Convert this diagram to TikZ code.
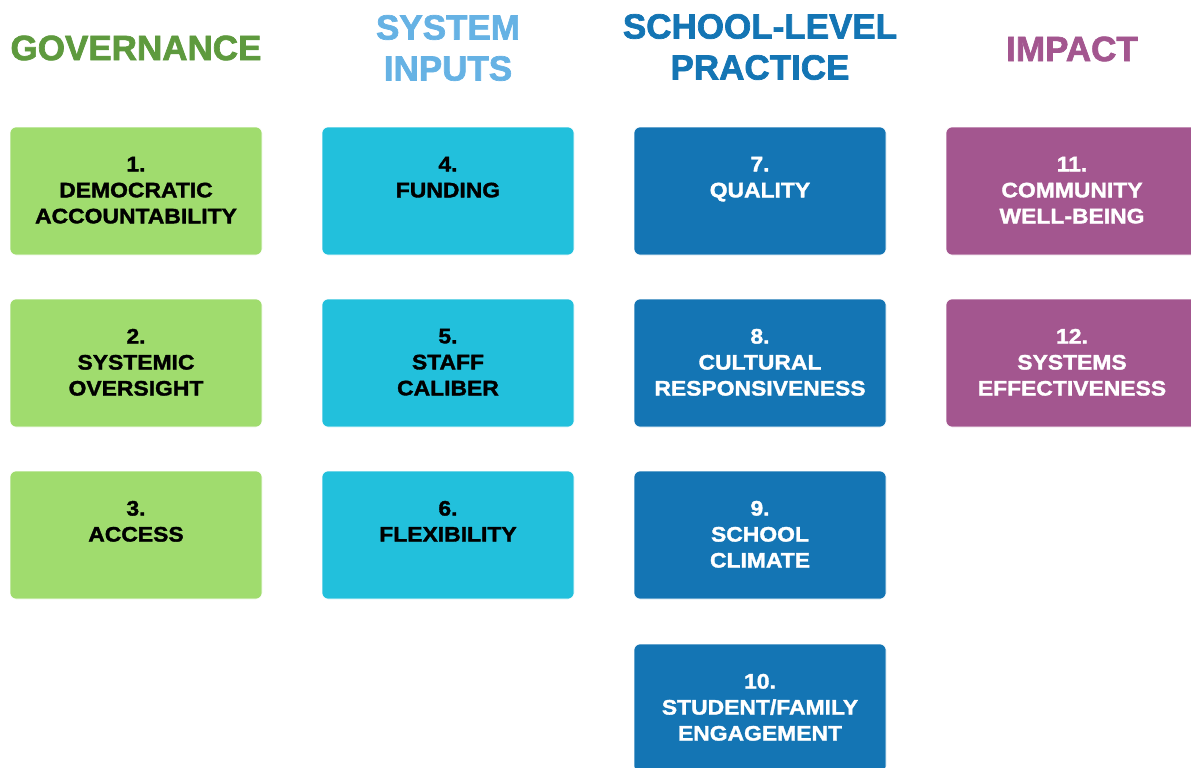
\documentclass[tikz,border=0pt]{standalone}
\usepackage{fontspec}
\setmainfont{Liberation Sans}
\newfontface\heavy{Liberation Sans Bold}[FakeBold=1.6,FakeStretch=1.09]
\newfontface\heavyhead{Liberation Sans Bold}[FakeBold=2]
\definecolor{gfill}{HTML}{A0DC6E}
\definecolor{cfill}{HTML}{22C0DC}
\definecolor{bfill}{HTML}{1475B4}
\definecolor{pfill}{HTML}{A3568F}
\definecolor{ghead}{HTML}{5E9A3E}
\definecolor{chead}{HTML}{66B2E4}
\begin{document}
\begin{tikzpicture}[x=1pt,y=-1pt,
  card/.style={rectangle,rounded corners=6pt,minimum width=252pt,minimum height=128pt,inner sep=0pt,draw=white,line width=0.6pt},
  lbl/.style={anchor=north,inner sep=0pt,align=center,font=\heavy\fontsize{21}{26}\selectfont},
  head/.style={inner sep=0pt,align=center,font=\heavyhead\fontsize{35}{41}\selectfont}]
\useasboundingbox (0,0) rectangle (1191,768);
\clip (0,0) rectangle (1191,768);
% headings
\node[head,text=ghead] (h1) at (136,48) {GOVERNANCE};
\node[head,text=chead] (h2) at (448,48) {SYSTEM\\INPUTS};
\node[head,text=bfill] (h3) at (760,47) {SCHOOL-LEVEL\\PRACTICE};
\node[head,text=pfill] (h4) at (1072,49) {IMPACT};
% column 1
\node[card,fill=gfill] (n1) at (136,191) {};
\node[card,fill=gfill] (n2) at (136,363) {};
\node[card,fill=gfill] (n3) at (136,535) {};
% column 2
\node[card,fill=cfill] (n4) at (448,191) {};
\node[card,fill=cfill] (n5) at (448,363) {};
\node[card,fill=cfill] (n6) at (448,535) {};
% column 3
\node[card,fill=bfill] (n7) at (760,191) {};
\node[card,fill=bfill] (n8) at (760,363) {};
\node[card,fill=bfill] (n9) at (760,535) {};
\node[card,fill=bfill] (n10) at (760,708) {};
% column 4
\node[card,fill=pfill] (n11) at (1072,191) {};
\node[card,fill=pfill] (n12) at (1072,363) {};
% labels
\node[lbl] (t1) at ([yshift=-30pt]n1.north) {1.\\DEMOCRATIC\\ACCOUNTABILITY};
\node[lbl] (t2) at ([yshift=-30pt]n2.north) {2.\\SYSTEMIC\\OVERSIGHT};
\node[lbl] (t3) at ([yshift=-30pt]n3.north) {3.\\ACCESS};
\node[lbl] (t4) at ([yshift=-30pt]n4.north) {4.\\FUNDING};
\node[lbl] (t5) at ([yshift=-30pt]n5.north) {5.\\STAFF\\CALIBER};
\node[lbl] (t6) at ([yshift=-30pt]n6.north) {6.\\FLEXIBILITY};
\node[lbl,text=white] (t7) at ([yshift=-30pt]n7.north) {7.\\QUALITY};
\node[lbl,text=white] (t8) at ([yshift=-30pt]n8.north) {8.\\CULTURAL\\RESPONSIVENESS};
\node[lbl,text=white] (t9) at ([yshift=-30pt]n9.north) {9.\\SCHOOL\\CLIMATE};
\node[lbl,text=white] (t10) at ([yshift=-30pt]n10.north) {10.\\STUDENT/FAMILY\\ENGAGEMENT};
\node[lbl,text=white] (t11) at ([yshift=-30pt]n11.north) {11.\\COMMUNITY\\WELL-BEING};
\node[lbl,text=white] (t12) at ([yshift=-30pt]n12.north) {12.\\SYSTEMS\\EFFECTIVENESS};
\end{tikzpicture}
\end{document}
